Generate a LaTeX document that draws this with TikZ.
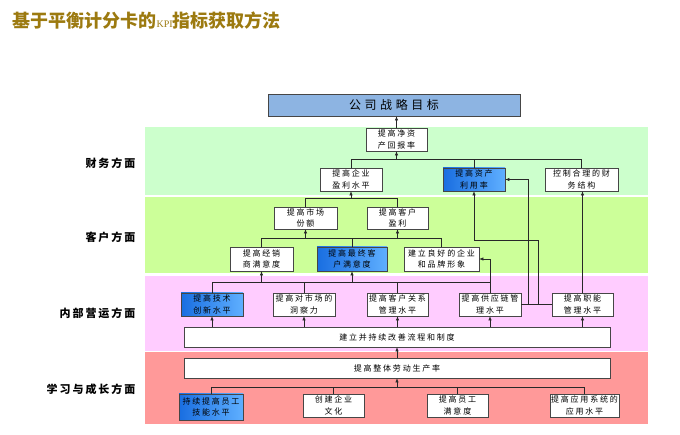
\documentclass[tikz,border=0pt]{standalone}
\usepackage{fontspec}
\setmainfont{Liberation Serif}
\newfontfamily\cjk[LetterSpace=22]{Noto Sans CJK SC}
\newfontfamily\cjkside[LetterSpace=18]{Noto Sans CJK SC}
\newfontfamily\cjkgoal[LetterSpace=30]{Noto Sans CJK SC}
\newfontfamily\cjktitle{Noto Sans CJK SC}
\usetikzlibrary{arrows.meta}
\definecolor{finance}{RGB}{204,255,204}
\definecolor{customer}{RGB}{204,255,153}
\definecolor{internal}{RGB}{255,204,255}
\definecolor{learning}{RGB}{255,153,153}
\definecolor{titlec}{RGB}{156,122,16}
\definecolor{boxline}{RGB}{70,70,70}
\definecolor{linkc}{RGB}{40,40,40}
\definecolor{hotl}{RGB}{25,110,225}
\definecolor{hotr}{RGB}{95,175,255}
\definecolor{goalc}{RGB}{141,180,226}
\begin{document}
\begin{tikzpicture}[x=1pt,y=-1pt,
    box/.style={draw=boxline,line width=0.7pt,fill=white,minimum width=62pt,minimum height=23pt,
      inner sep=1pt,align=center,font=\cjk\fontsize{8}{11.5}\selectfont},
    hot/.style={box,left color=hotl,right color=hotr},
    wide/.style={box,minimum width=426pt,minimum height=20pt},
    side/.style={anchor=east,font=\cjkside\bfseries\fontsize{11}{11}\selectfont},
    arr/.style={-{Latex[length=4pt,width=3.5pt]}},
    link/.style={draw=linkc,line width=0.6pt}]
  \useasboundingbox (0,0) rectangle (680,435);
  \node[anchor=west,text=titlec,font=\cjktitle\bfseries\fontsize{18}{18}\selectfont] (title) at (9,21)
    {基于平衡计分卡的{\rmfamily\mdseries\fontsize{10}{10}\selectfont KPI}指标获取方法};
  \fill[finance] (145,127) rectangle (648,195);
  \fill[customer] (145,197) rectangle (648,273);
  \fill[internal] (145,276) rectangle (648,351);
  \fill[learning] (145,352) rectangle (648,424);
  \node[side] (s1) at (139,163) {财务方面};
  \node[side] (s2) at (139,237) {客户方面};
  \node[side] (s3) at (139,313) {内部营运方面};
  \node[side] (s4) at (139,389) {学习与成长方面};
  \node[box,fill=goalc,minimum width=252pt,minimum height=22pt,font=\cjkgoal\fontsize{12}{12}\selectfont] (goal) at (394,105) {公司战略目标};
  \node[box,minimum width=61pt] (roe) at (396.5,139.5) {提高净资\\产回报率};
  \node[box] (profit) at (351,179.5) {提高企业\\盈利水平};
  \node[hot] (asset) at (474,179.5) {提高资产\\利用率};
  \node[box,minimum width=73pt] (finstruct) at (581.5,179.5) {控制合理的财\\务结构};
  \node[box,minimum width=63pt,minimum height=22pt] (share) at (305.5,218) {提高市场\\份额};
  \node[box,minimum width=61pt,minimum height=22pt] (custprofit) at (397.5,218) {提高客户\\盈利};
  \node[box,minimum width=63pt,minimum height=24pt] (dealer) at (261.5,259) {提高经销\\商满意度};
  \node[hot,minimum width=70pt,minimum height=24pt] (endcust) at (352,259) {提高最终客\\户满意度};
  \node[box,minimum width=75pt,minimum height=24pt] (brand) at (441.5,259) {建立良好的企业\\和品牌形象};
  \node[hot] (tech) at (212,304.5) {提高技术\\创新水平};
  \node[box] (insight) at (304,304.5) {提高对市场的\\洞察力};
  \node[box,minimum width=61pt] (crm) at (397.5,304.5) {提高客户关系\\管理水平};
  \node[box] (supply) at (490,304.5) {提高供应链管\\理水平};
  \node[box,minimum width=61pt] (func) at (582.5,304.5) {提高职能\\管理水平};
  \node[wide] (process) at (397,337) {建立并持续改善流程和制度};
  \node[wide] (productivity) at (397,368) {提高整体劳动生产率};
  \node[hot,minimum width=64pt,minimum height=26pt] (skill) at (211,407) {持续提高员工\\技能水平};
  \node[box,minimum width=61pt] (culture) at (333.5,405.5) {创建企业\\文化};
  \node[box,minimum width=61pt] (satisfy) at (457.5,405.5) {提高员工\\满意度};
  \node[box,minimum width=69pt] (appsys) at (584.5,405.5) {提高应用系统的\\应用水平};
  \coordinate (fbus) at (0,159);
  \coordinate (cbus) at (0,198);
  \coordinate (dbus) at (0,238);
  \coordinate (abus) at (0,240);
  \coordinate (ibus) at (0,282);
  \coordinate (lbus) at (0,387);
  \coordinate (sa) at (528,304.5);
  \coordinate (sb) at (538,304.5);
  \begin{scope}[link]
    \draw[arr] (roe.north) -- (roe.north |- goal.south);
    \draw (profit.north) -- (profit.north |- fbus) -| (finstruct.north);
    \draw (asset.north) -- (asset.north |- fbus);
    \draw[arr] (roe.south |- fbus) -- (roe.south);
    \draw (share.north) -- (share.north |- cbus) -| (custprofit.north);
    \draw[arr] (profit.south |- cbus) -- (profit.south);
    \draw (dealer.north) -- (dealer.north |- dbus) -| (brand.north);
    \draw (endcust.north) -- (endcust.north |- dbus);
    \draw[arr] (share.south |- dbus) -- (share.south);
    \draw[arr] (custprofit.south |- dbus) -- (custprofit.south);
    \draw (tech.north) -- (tech.north |- ibus) -| (supply.north);
    \draw (insight.north) -- (insight.north |- ibus);
    \draw (crm.north) -- (crm.north |- ibus);
    \draw[arr] (dealer.south |- ibus) -- (dealer.south);
    \draw[arr] (endcust.south |- ibus) -- (endcust.south);
    \draw[arr] (supply.north) |- (brand.east);
    \draw (supply.east) -- (func.west);
    \draw[arr] (sa) |- (asset.east);
    \draw[arr] (sb) |- (asset.south |- abus) -- (asset.south);
    \draw[arr] (func.north) -- (func.north |- finstruct.south);
    \foreach \n in {tech,insight,crm,supply,func}
      \draw[arr] (\n.south |- process.north) -- (\n.south);
    \draw[arr] (productivity.north) -- (process.south);
    \draw (skill.north) -- (skill.north |- lbus) -| (appsys.north);
    \draw (culture.north) -- (culture.north |- lbus);
    \draw (satisfy.north) -- (satisfy.north |- lbus);
    \draw[arr] (productivity.south |- lbus) -- (productivity.south);
  \end{scope}
\end{tikzpicture}
\end{document}
